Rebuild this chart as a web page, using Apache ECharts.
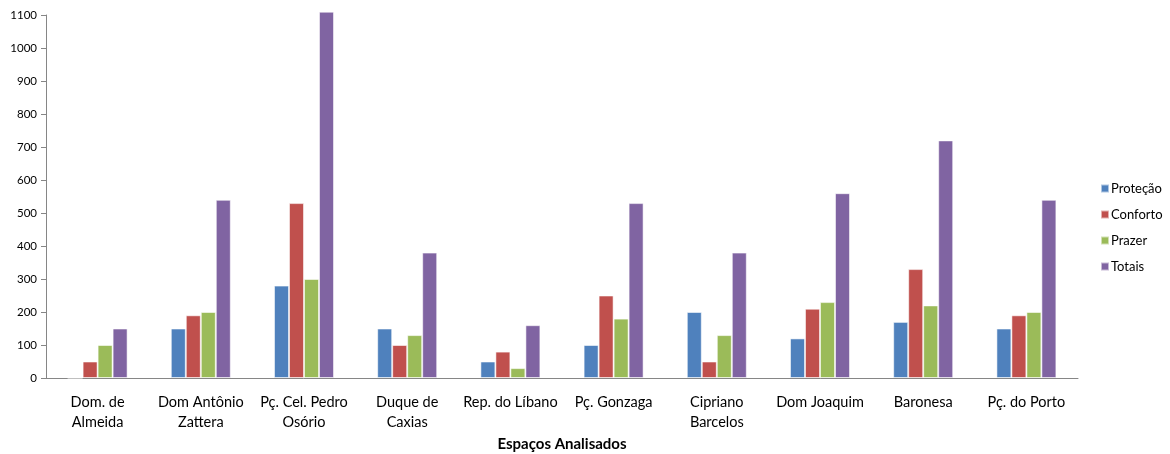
<!DOCTYPE html>
<html>
<head>
<meta charset="utf-8">
<script src="https://cdn.jsdelivr.net/npm/echarts@6/dist/echarts.min.js"></script>
<style>
  html, body { margin: 0; padding: 0; background: #fff; }
  #chart { width: 1170px; height: 454px; }
</style>
</head>
<body>
<div id="chart"></div>
<script>
// Spaces surveyed and the scores recorded for each
const categories = [
  'Dom. de\nAlmeida', 'Dom Antônio\nZattera', 'Pç. Cel. Pedro\nOsório', 'Duque de\nCaxias',
  'Rep. do Líbano', 'Pç. Gonzaga', 'Cipriano\nBarcelos', 'Dom Joaquim', 'Baronesa', 'Pç. do Porto'
];
const protecao = [0, 150, 280, 150, 50, 100, 200, 120, 170, 150];
const conforto = [50, 190, 530, 100, 80, 250, 50, 210, 330, 190];
const prazer   = [100, 200, 300, 130, 30, 180, 130, 230, 220, 200];
const totais   = [150, 540, 1110, 380, 160, 530, 380, 560, 720, 540];

const seriesNames = ['Proteção', 'Conforto', 'Prazer', 'Totais'];
const seriesData = [protecao, conforto, prazer, totais];
const colors = ['#4F81BD', '#C0504D', '#9BBB59', '#8064A2'];

const font = 'Lato, "Open Sans", sans-serif';

const chart = echarts.init(document.getElementById('chart'), null, { renderer: 'canvas' });
chart.setOption({
  animation: false,
  color: colors,
  grid: {
    left: 46, right: 92, top: 15, bottom: 76,
    containLabel: false,
    outerBoundsMode: 'none'
  },
  legend: {
    orient: 'vertical',
    left: 1095,
    top: 177,
    itemWidth: 8,
    itemHeight: 8,
    itemGap: 13,
    icon: 'rect',
    textStyle: { fontFamily: font, fontSize: 13, color: '#000', padding: [0, 0, 0, -3] },
    data: seriesNames
  },
  xAxis: {
    type: 'category',
    data: categories,
    name: 'Espaços Analisados',
    nameLocation: 'middle',
    nameGap: 59,
    nameTextStyle: { fontFamily: font, fontSize: 15, fontWeight: 'bold', color: '#000' },
    axisLine: { lineStyle: { color: '#868686', width: 1 } },
    axisTick: { show: false },
    axisLabel: {
      fontFamily: font, fontSize: 14.5, color: '#000', interval: 0,
      margin: 14, lineHeight: 20
    }
  },
  yAxis: {
    type: 'value',
    min: 0,
    max: 1100,
    interval: 100,
    splitLine: { show: false },
    axisLine: { show: true, lineStyle: { color: '#868686', width: 1 } },
    axisTick: { show: true, length: 5, lineStyle: { color: '#868686' } },
    axisLabel: {
      fontFamily: font, fontSize: 11.5, color: '#000', margin: 9,
      formatter: v => String(v)
    }
  },
  series: seriesData.map((d, i) => ({
    name: seriesNames[i],
    type: 'bar',
    data: d,
    barWidth: 15,
    barGap: '0%',
    clip: false,
    itemStyle: { borderColor: 'rgba(255,255,255,0.55)', borderWidth: 1 }
  }))
});
</script>
</body>
</html>
